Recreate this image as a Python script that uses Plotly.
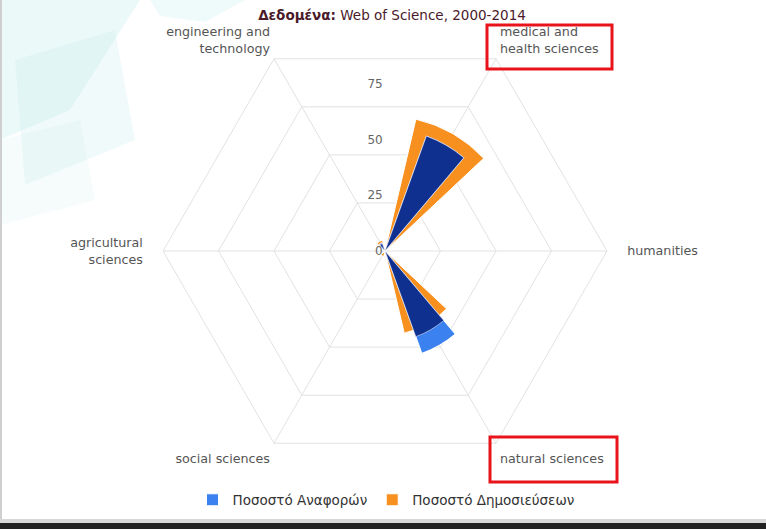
import plotly.graph_objects as go

NB = "\u00a0"
categories = ["medical and<br>health sciences", NB * 3 + "humanities", "natural sciences",
              "social sciences", "agricultural" + NB * 3 + "<br>sciences" + NB * 3,
              "engineering and<br>technology"]
citations = [55, 0.2, 49, 0.5, 0.3, 4]          # Ποσοστό Αναφορών (light blue)
publications = [61, 0.3, 38, 2.5, 0.5, 5]       # Ποσοστό Δημοσιεύσεων (orange)
inner_navy = [55, 0.1, 41, 0.4, 0.2, 3.5]       # dark overlay series (not in legend)
radial_ticks = [0, 25, 50, 75]

W, H = 766, 529

def px(x, y):
    return x / W, 1 - y / H

fig = go.Figure()
# polar: hexagonal grid + category labels (carried by an invisible trace)
fig.add_trace(go.Scatterpolar(r=[0], theta=[categories[0]], subplot="polar", mode="markers",
                              marker=dict(opacity=0), showlegend=False, hoverinfo="skip"))
# polar2: circular (arc-shaped) bars and the north-pointing radial tick labels
fig.add_trace(go.Barpolar(r=publications, theta=categories, name="Ποσοστό Δημοσιεύσεων",
                          subplot="polar2",
                          marker=dict(color="#f7901e", line=dict(color="white", width=1)),
                          width=0.56, legendrank=2))
fig.add_trace(go.Barpolar(r=citations, theta=categories, name="Ποσοστό Αναφορών",
                          subplot="polar2",
                          marker=dict(color="#3b82f0", line=dict(color="white", width=1)),
                          width=0.34, legendrank=1))
fig.add_trace(go.Barpolar(r=inner_navy, theta=categories, name="navy", showlegend=False,
                          subplot="polar2",
                          marker=dict(color="#10308f", line=dict(color="white", width=0.5)),
                          width=0.34))

shapes = []
bg_paths = [
    ([(0, 0), (140, 0), (70, 110), (0, 140)], 0.30),
    ([(15, 60), (115, 30), (135, 140), (25, 185)], 0.22),
    ([(0, 140), (80, 120), (95, 200), (0, 225)], 0.14),
    ([(150, 0), (245, 0), (205, 22), (160, 16)], 0.25),
]
for pts, op in bg_paths:
    segs = []
    for k, (x, y) in enumerate(pts):
        fx, fy = px(x, y)
        segs.append(("M" if k == 0 else "L") + f" {fx:.4f} {fy:.4f}")
    shapes.append(dict(type="path", path=" ".join(segs) + " Z", xref="paper", yref="paper",
                       layer="below", fillcolor="#bfeaea", opacity=op, line=dict(width=0)))

def rect(x0, y0, x1, y1, **kw):
    a = px(x0, y0); b = px(x1, y1)
    return dict(type="rect", xref="paper", yref="paper", x0=a[0], y0=b[1], x1=b[0], y1=a[1], **kw)

shapes.append(rect(487, 25, 612, 69, line=dict(color="#e8141a", width=3)))
shapes.append(rect(490, 437, 617, 482, line=dict(color="#e8141a", width=3)))
shapes.append(rect(0, 519, 766, 523, fillcolor="#d8d8d8", line=dict(width=0)))
shapes.append(rect(0, 523, 766, 529, fillcolor="#222222", line=dict(width=0)))
shapes.append(rect(0, 0, 2, 519, fillcolor="#cfcfcf", line=dict(width=0)))

dom_x0, dom_y0 = px(163, 29)
dom_x1, dom_y1 = px(607, 473)
domain = dict(x=[dom_x0, dom_x1], y=[dom_y1, dom_y0])
leg_x, leg_y = px(386, 500)
tit_x, tit_y = px(392, 15)

fig.update_layout(
    width=W, height=H,
    margin=dict(l=0, r=0, t=0, b=0),
    paper_bgcolor="white",
    font=dict(family="DejaVu Sans", size=12, color="#555555"),
    title=dict(text="<b>Δεδομένα:</b> Web of Science, 2000-2014", x=tit_x, xanchor="center",
               y=tit_y, yanchor="middle",
               font=dict(family="DejaVu Sans", size=13.5, color="#4a1a2a")),
    polar=dict(
        domain=domain,
        bgcolor="rgba(0,0,0,0)",
        gridshape="linear",
        angularaxis=dict(type="category", categoryarray=categories, rotation=60,
                         direction="clockwise", showline=True, linecolor="#e2e2e2",
                         gridcolor="#e2e2e2", ticks="outside", ticklen=5,
                         tickcolor="rgba(0,0,0,0)",
                         tickfont=dict(size=12.7, color="#555555")),
        radialaxis=dict(range=[0, 100], tickvals=radial_ticks, showline=False,
                        gridcolor="#e2e2e2", ticks="", showticklabels=False),
    ),
    polar2=dict(
        barmode="overlay",
        domain=domain,
        bgcolor="rgba(0,0,0,0)",
        angularaxis=dict(type="category", categoryarray=categories, rotation=60,
                         direction="clockwise", showline=False, showgrid=False,
                         showticklabels=False, ticks=""),
        radialaxis=dict(range=[0, 100], tickvals=radial_ticks, angle=90, showline=False,
                        showgrid=False, ticks="", side="counterclockwise", tickangle=90,
                        tickfont=dict(size=12, color="#666666")),
    ),
    legend=dict(orientation="h", x=leg_x, xanchor="center", y=leg_y, yanchor="middle",
                font=dict(size=13.5, color="#333333"), bgcolor="rgba(0,0,0,0)"),
    shapes=shapes,
)

fig.write_html("out.html", config={"displayModeBar": False},
               post_script="document.body.style.margin='0';document.body.style.overflow='hidden';")
